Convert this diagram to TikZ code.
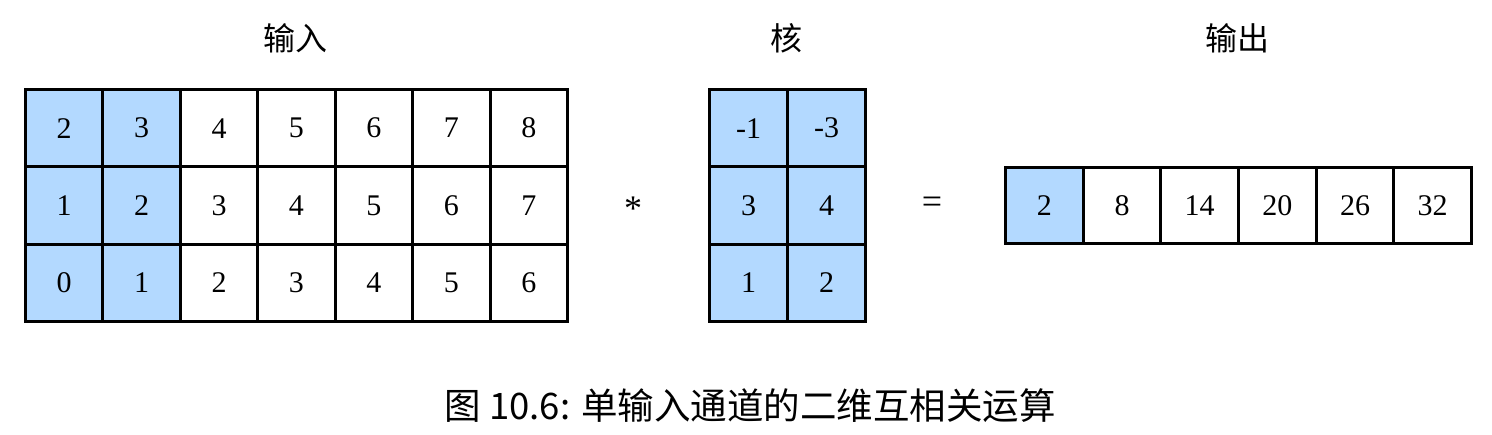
\documentclass[tikz,border=0pt]{standalone}
\usepackage{fontspec}
\setmainfont{Liberation Serif}
\newfontfamily\cjk{Noto Sans CJK SC}
\definecolor{cellblue}{RGB}{179,217,255}
\begin{document}
\begin{tikzpicture}[x=1pt,y=-1pt,
  cellbox/.style={draw=black,line width=3pt,minimum width=77.4pt,minimum height=77.3pt,inner sep=0pt,anchor=north west,font=\fontsize{30}{30}\selectfont},
  hl/.style={fill=cellblue},
  lbl/.style={font=\cjk\fontsize{32}{32}\selectfont,inner sep=0pt},
  op/.style={font=\fontsize{36}{36}\selectfont,inner sep=0pt}]
\useasboundingbox (0,0) rectangle (1492,434);
% input grid
\foreach \r/\row in {0/{2,3,4,5,6,7,8},1/{1,2,3,4,5,6,7},2/{0,1,2,3,4,5,6}}{
  \foreach \v [count=\c from 0] in \row {
    \ifnum\c<2
      \node[cellbox,hl] (in-\r-\c) at ({24+\c*77.43},{88+\r*77.33}) {\v};
    \else
      \node[cellbox] (in-\r-\c) at ({24+\c*77.43},{88+\r*77.33}) {\v};
    \fi
  }
}
% kernel
\foreach \r/\row in {0/{-1,-3},1/{3,4},2/{1,2}}{
  \foreach \v [count=\c from 0] in \row {
    \node[cellbox,hl,minimum width=78pt] (k-\r-\c) at ({708+\c*78},{88+\r*77.33}) {\v};
  }
}
% output
\foreach \v [count=\c from 0] in {2,8,14,20,26,32}{
  \ifnum\c=0
    \node[cellbox,hl,minimum width=77.67pt,minimum height=76pt] (o-\c) at ({1004+\c*77.67},166) {\v};
  \else
    \node[cellbox,minimum width=77.67pt,minimum height=76pt] (o-\c) at ({1004+\c*77.67},166) {\v};
  \fi
}
\node[lbl] (tin) at (295,38) {输入};
\node[lbl] (tk) at (786,38) {核};
\node[lbl] (tout) at (1237,38) {输出};
\node[op] (star) at (633,209) {*};
\node[op] (eq) at (932,205) {=};
\node[inner sep=0pt,font=\cjk\fontsize{36.5}{36.5}\selectfont] (cap) at (750,406) {图 10.6: 单输入通道的二维互相关运算};
\end{tikzpicture}
\end{document}
